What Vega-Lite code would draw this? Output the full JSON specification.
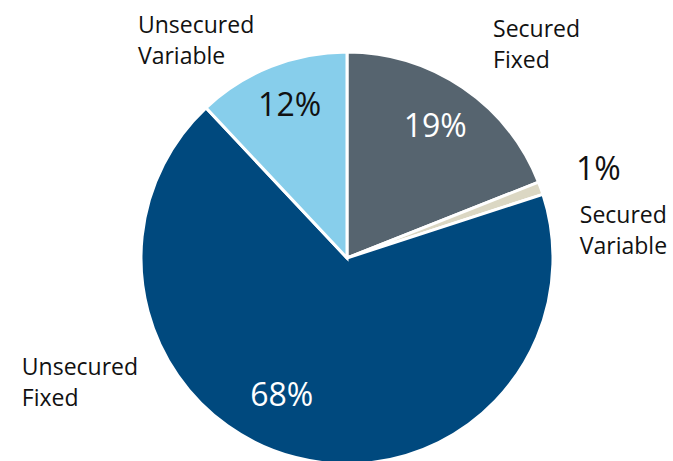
{
  "$schema": "https://vega.github.io/schema/vega-lite/v6.json",
  "autosize": "none",
  "padding": {"left": 21, "top": 55, "right": 0, "bottom": 0},
  "width": 652,
  "height": 406,
  "background": "white",
  "config": {"view": {"stroke": null}, "font": "Open Sans"},
  "data": {
    "values": [
      {"cat": "Secured Fixed", "label": "Secured\nFixed", "value": 19, "pct": "19%", "order": 1},
      {"cat": "Secured Variable", "label": "Secured\nVariable", "value": 1, "pct": "1%", "order": 2},
      {"cat": "Unsecured Fixed", "label": "Unsecured\nFixed", "value": 68, "pct": "68%", "order": 3},
      {"cat": "Unsecured Variable", "label": "Unsecured\nVariable", "value": 12, "pct": "12%", "order": 4}
    ]
  },
  "encoding": {
    "theta": {"field": "value", "type": "quantitative", "stack": true},
    "order": {"field": "order", "type": "quantitative"}
  },
  "layer": [
    {
      "mark": {"type": "arc", "outerRadius": 206, "stroke": "white", "strokeWidth": 3},
      "encoding": {
        "color": {
          "field": "cat",
          "type": "nominal",
          "scale": {
            "domain": ["Secured Fixed", "Secured Variable", "Unsecured Fixed", "Unsecured Variable"],
            "range": ["#56646f", "#dbd7c3", "#00497e", "#87ceeb"]
          },
          "legend": null
        }
      }
    },
    {
      "mark": {"type": "text", "radius": 157, "dy": -1.5, "fontSize": 32, "color": "white", "align": "center", "baseline": "middle"},
      "encoding": {"text": {"condition": {"test": "datum.cat === 'Secured Fixed'", "field": "pct"}, "value": ""}}
    },
    {
      "mark": {"type": "text", "radius": 164, "dx": 3, "fontSize": 32, "color": "#111111", "align": "center", "baseline": "middle"},
      "encoding": {"text": {"condition": {"test": "datum.cat === 'Unsecured Variable'", "field": "pct"}, "value": ""}}
    },
    {
      "mark": {"type": "text", "radius": 150, "dx": -28, "dy": -7, "fontSize": 32, "color": "white", "align": "center", "baseline": "middle"},
      "encoding": {"text": {"condition": {"test": "datum.cat === 'Unsecured Fixed'", "field": "pct"}, "value": ""}}
    },
    {
      "mark": {"type": "text", "radius": 265, "dx": 2, "dy": 2, "fontSize": 32, "color": "#111111", "align": "center", "baseline": "middle"},
      "encoding": {"text": {"condition": {"test": "datum.cat === 'Secured Variable'", "field": "pct"}, "value": ""}}
    },
    {
      "mark": {"type": "text", "radius": 250, "dx": 5.5, "dy": -14, "fontSize": 23, "lineHeight": 31, "lineBreak": "\n", "color": "#111111", "align": "left", "baseline": "alphabetic"},
      "encoding": {"text": {"condition": {"test": "datum.cat === 'Secured Fixed'", "field": "label"}, "value": ""}}
    },
    {
      "mark": {"type": "text", "radius": 240, "dx": 7, "dy": 46, "fontSize": 23, "lineHeight": 31, "lineBreak": "\n", "color": "#111111", "align": "left", "baseline": "alphabetic"},
      "encoding": {"text": {"condition": {"test": "datum.cat === 'Secured Variable'", "field": "label"}, "value": ""}}
    },
    {
      "mark": {"type": "text", "radius": 250, "dx": -117, "dy": 7.5, "fontSize": 23, "lineHeight": 31, "lineBreak": "\n", "color": "#111111", "align": "left", "baseline": "alphabetic"},
      "encoding": {"text": {"condition": {"test": "datum.cat === 'Unsecured Variable'", "field": "label"}, "value": ""}}
    },
    {
      "mark": {"type": "text", "radius": 250, "dx": -263, "dy": -125, "fontSize": 23, "lineHeight": 31, "lineBreak": "\n", "color": "#111111", "align": "left", "baseline": "alphabetic"},
      "encoding": {"text": {"condition": {"test": "datum.cat === 'Unsecured Fixed'", "field": "label"}, "value": ""}}
    }
  ]
}
